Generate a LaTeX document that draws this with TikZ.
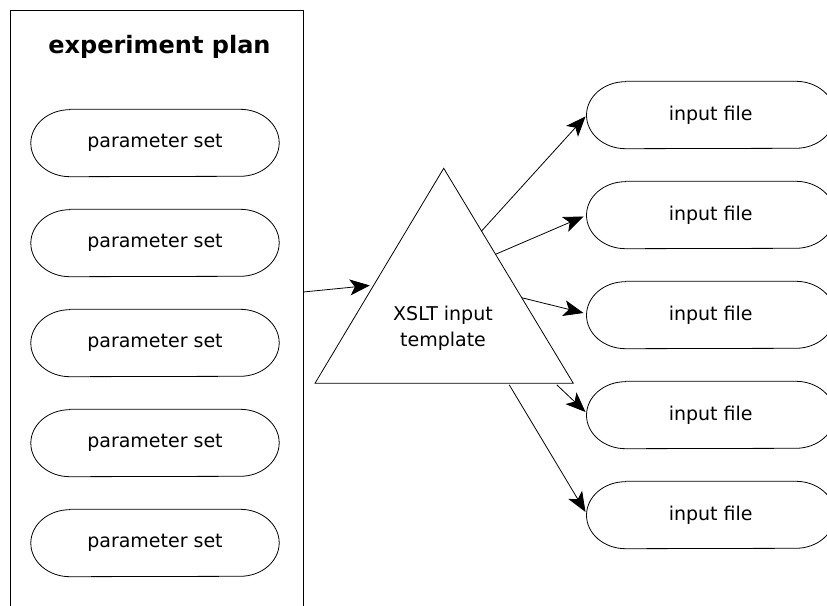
\documentclass[tikz,border=0pt]{standalone}
\usepackage{fontspec}
\setmainfont{DejaVu Sans}
\usetikzlibrary{arrows.meta,calc}
\begin{document}
\begin{tikzpicture}[x=1pt,y=1pt,
  outline/.style={draw, line width=0.8pt},
  pill/.style={minimum width=248pt, minimum height=67pt, inner sep=0pt,
    font=\fontsize{19}{23}\selectfont},
  flow/.style={line width=0.8pt, -{Stealth[length=20pt,width=16pt,inset=5pt]}},
  title/.style={font=\fontsize{24}{29}\selectfont\bfseries}]
\useasboundingbox (0,0) rectangle (827,605);
\begin{scope}
\clip (0,0) rectangle (827,605);

% experiment plan frame (runs past the lower edge)
\node[outline, minimum width=293pt, minimum height=605pt, inner sep=0pt]
  (plan) at (156.5,292.5) {};
\node[title, anchor=base] (ptitle) at (159.5,551) {experiment plan};
\foreach \i/\y in {1/462,2/362,3/262,4/162,5/62}
  \node[pill] (par\i) at (155,\y) {parameter set};

% XSLT template triangle
\coordinate (ta) at (443.7,436.7);
\coordinate (tl) at (315,221.7);
\coordinate (tr) at (573.3,221.7);
\draw[outline, line join=miter] (ta) -- (tl) -- (tr) -- cycle;
\node[align=center, font=\fontsize{19}{26}\selectfont] (xslt) at (443,277)
  {XSLT input\\template};

% generated input files
\foreach \i/\y in {1/490,2/390,3/290,4/190,5/90}
  \node[pill] (file\i) at (710.7,\y) {input file};

% pill outlines with slightly elliptical ends
\foreach \n in {par1,par2,par3,par4,par5,file1,file2,file3,file4,file5}
  \draw[line width=0.8pt]
    ([xshift=39pt]\n.north west) -- ([xshift=-39pt]\n.north east)
    arc[start angle=90, end angle=-90, x radius=39pt, y radius=33.5pt]
    -- ([xshift=39pt]\n.south west)
    arc[start angle=270, end angle=90, x radius=39pt, y radius=33.5pt]
    -- cycle;

% connection points on the triangle outline
\coordinate (tin) at ($(ta)!0.543!(tl)$);
\coordinate (o1) at ($(ta)!0.292!(tr)$);
\coordinate (o2) at ($(ta)!0.40!(tr)$);
\coordinate (o3) at ($(ta)!0.602!(tr)$);
\coordinate (o4) at ($(tl)!0.936!(tr)+(0,-1.5)$);
\coordinate (o5) at ($(tl)!0.752!(tr)+(0,-1.5)$);
\coordinate (pout) at ([yshift=20.5pt]plan.east);

\draw[flow, shorten >=4pt] (pout) -- (tin);
\draw[flow] (o1) -- ([xshift=-1pt,yshift=-1.5pt]file1.west);
\draw[flow] (o2) -- ([xshift=-3pt,yshift=-1.5pt]file2.west);
\draw[flow] (o3) -- ([xshift=-3pt,yshift=2pt]file3.west);
\draw[flow] (o4) -- ([xshift=-1pt,yshift=3pt]file4.west);
\draw[flow] (o5) -- ([xshift=-1pt,yshift=3pt]file5.west);
\end{scope}
\end{tikzpicture}
\end{document}
